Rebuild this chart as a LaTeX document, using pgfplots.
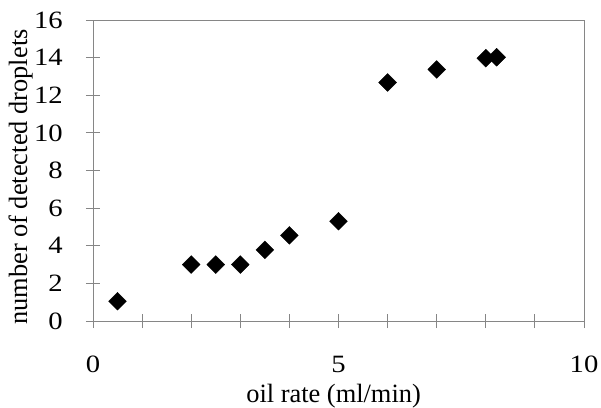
\documentclass[border=0pt]{standalone}
\usepackage{fontspec}
\setmainfont{Liberation Serif}
\usepackage{pgfplots}
\pgfplotsset{compat=1.18}
\definecolor{axisgray}{RGB}{134,134,134}

\begin{document}
\begin{tikzpicture}
    \useasboundingbox (-93bp,-87bp) rectangle (508bp,321bp);
    \begin{axis}[
        scale only axis,
        width=491bp,
        height=301bp,
        xmin=0, xmax=10,
        ymin=0, ymax=16,
        xtick={0,5,10},
        minor x tick num=4,
        ytick={0,2,...,16},
        tick pos=left,
        tick align=center,
        major tick length=14bp,
        minor tick length=14bp,
        axis line style={axisgray, line width=0.9bp},
        every tick/.style={axisgray, line width=0.9bp},
        /pgf/number format/assume math mode=true,
        ticklabel style={font=\fontsize{25}{25}\selectfont, inner sep=0pt, xscale=1.15},
        xticklabel style={anchor=north, yshift=-28bp},
        yticklabel style={anchor=east, xshift=-20bp},
        label style={font=\fontsize{26.5}{26.5}\selectfont},
        xlabel={oil rate (ml/min)},
        ylabel={number of detected droplets},
        xlabel style={at={(axis description cs:0.49,-0.272)}, anchor=base, inner sep=0pt},
        ylabel style={at={(axis description cs:-0.1344,0.478)}, anchor=base, inner sep=0pt},
    ]
    \addplot[
        only marks,
        mark=square*,
        mark size=6.3bp,
        mark options={rotate=45, fill=black, draw=black},
    ] coordinates {
        (0.5, 1.05)
        (2.0, 3.0)
        (2.5, 3.0)
        (3.0, 3.0)
        (3.5, 3.78)
        (4.0, 4.55)
        (5.0, 5.3)
        (6.0, 12.68)
        (7.0, 13.37)
        (8.0, 13.97)
        (8.22, 14.02)
    };
    \end{axis}
\end{tikzpicture}
\end{document}
